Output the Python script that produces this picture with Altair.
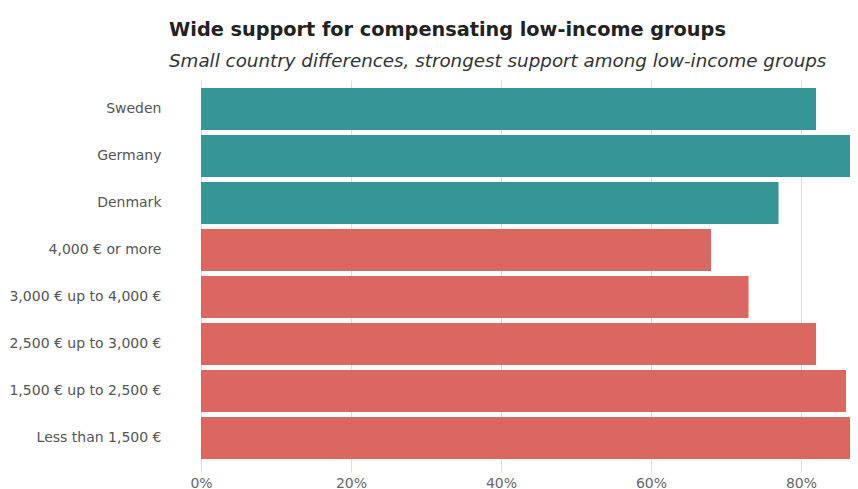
import altair as alt
import pandas as pd

categories = [
    "Sweden", "Germany", "Denmark",
    "4,000 € or more", "3,000 € up to 4,000 €", "2,500 € up to 3,000 €",
    "1,500 € up to 2,500 €", "Less than 1,500 €",
]
values = [0.82, 0.87, 0.77, 0.68, 0.73, 0.82, 0.86, 0.88]
groups = ["Country", "Country", "Country", "Income", "Income", "Income", "Income", "Income"]
tick_values = [0, 0.2, 0.4, 0.6, 0.8]

df = pd.DataFrame({"category": categories, "share": values, "group": groups})

FONT = "DejaVu Sans"

chart = (
    alt.Chart(df)
    .mark_bar(opacity=0.96, clip=True)
    .encode(
        y=alt.Y(
            "category:N",
            sort=categories,
            title=None,
            scale=alt.Scale(paddingInner=0.106, paddingOuter=0.17),
            axis=alt.Axis(
                domain=False, ticks=False, grid=False,
                labelPadding=40, labelFontSize=14, labelColor="#555555",
                labelFont=FONT,
            ),
        ),
        x=alt.X(
            "share:Q",
            title=None,
            scale=alt.Scale(domain=[0, 0.8653], nice=False),
            axis=alt.Axis(
                values=tick_values, format=".0%", domain=False,
                tickSize=5, tickColor="#dddddd", gridColor="#dddddd",
                labelFontSize=14, labelColor="#666666", labelFont=FONT,
                labelPadding=4, labelFlush=False,
            ),
        ),
        color=alt.Color(
            "group:N",
            scale=alt.Scale(domain=["Country", "Income"], range=["#2e9292", "#d9625a"]),
            legend=None,
        ),
    )
    .properties(
        width=649,
        height=387,
        title=alt.Title(
            "Wide support for compensating low-income groups",
            subtitle="Small country differences, strongest support among low-income groups",
            anchor="start",
            frame="group",
            dx=-32,
            font=FONT,
            fontSize=19.3,
            fontWeight="bold",
            color="#222222",
            subtitleFont=FONT,
            subtitleFontSize=18.3,
            subtitleFontStyle="italic",
            subtitleColor="#333333",
            subtitlePadding=12,
            offset=10,
        ),
        autosize=alt.AutoSizeParams(type="none"),
        padding={"left": 193, "top": 72, "right": 0, "bottom": 22},
    )
    .configure_view(stroke=None)
)

chart.save("out.html", embed_options={"renderer": "svg", "actions": False})
